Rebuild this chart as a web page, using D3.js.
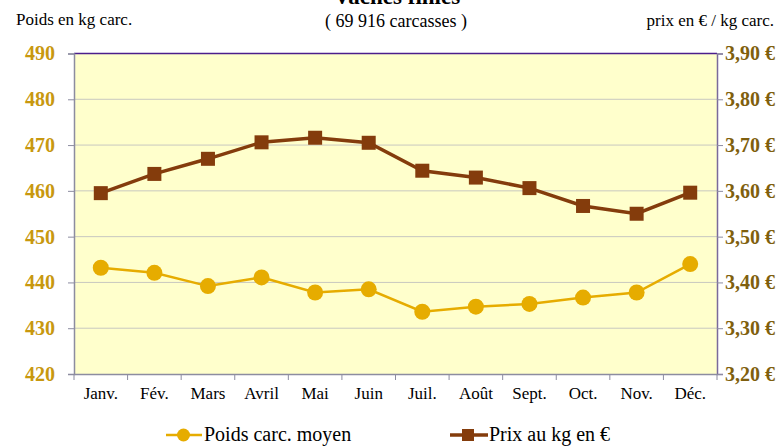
<!DOCTYPE html>
<html>
<head>
<meta charset="utf-8">
<script src="https://cdn.jsdelivr.net/npm/d3@7"></script>
<style>
  body { margin: 0; background: #fff; }
  svg text { font-family: "Liberation Serif", "Times New Roman", Times, serif; }
</style>
</head>
<body>
<svg id="chart" width="778" height="446"></svg>
<script>
const months = ["Janv.", "Fév.", "Mars", "Avril", "Mai", "Juin", "Juil.", "Août", "Sept.", "Oct.", "Nov.", "Déc."];
const poids = [443.2, 442.1, 439.2, 441.1, 437.8, 438.5, 433.6, 434.7, 435.3, 436.7, 437.8, 444.0];
const prix = [3.595, 3.637, 3.670, 3.706, 3.716, 3.705, 3.644, 3.629, 3.606, 3.567, 3.550, 3.596];
const leftTicks = [420, 430, 440, 450, 460, 470, 480, 490];
const rightTicks = [3.2, 3.3, 3.4, 3.5, 3.6, 3.7, 3.8, 3.9];

const serif = "'Liberation Serif', 'Times New Roman', Times, serif";
const svg = d3.select("#chart");
const plotL = 74, plotR = 717, plotT = 53.5, plotB = 374;

const x = d3.scaleBand().domain(months).range([plotL, plotR]);
const yL = d3.scaleLinear().domain([420, 490]).range([plotB, plotT]);
const yR = d3.scaleLinear().domain([3.2, 3.9]).range([plotB, plotT]);

// titles
svg.append("text").attr("x", 397).attr("y", 4).attr("text-anchor", "middle")
  .style("font-family", serif).attr("font-size", 23).attr("font-weight", "bold").text("Vaches finies");
svg.append("text").attr("x", 396).attr("y", 26.5).attr("text-anchor", "middle")
  .style("font-family", serif).attr("font-size", 18).text("( 69 916 carcasses )");
svg.append("text").attr("x", 16).attr("y", 24.5).style("font-family", serif).attr("font-size", 17).text("Poids en kg carc.");
svg.append("text").attr("x", 774).attr("y", 26).attr("text-anchor", "end")
  .style("font-family", serif).attr("font-size", 17).text("prix en € / kg carc.");

// plot background
svg.append("rect").attr("x", plotL).attr("y", plotT).attr("width", plotR - plotL)
  .attr("height", plotB - plotT).attr("fill", "#FFFFCC");

// gridlines
svg.append("g").selectAll("line").data(leftTicks.slice(1, -1)).join("line")
  .attr("x1", plotL).attr("x2", plotR)
  .attr("y1", d => yL(d)).attr("y2", d => yL(d))
  .attr("stroke", "#C8C8C0").attr("stroke-width", 1);

// frame top
svg.append("line").attr("x1", plotL).attr("x2", plotR).attr("y1", plotT).attr("y2", plotT)
  .attr("stroke", "#4B1E8C").attr("stroke-width", 1.5);

// left axis
const gL = svg.append("g").attr("transform", `translate(${plotL},0)`)
  .call(d3.axisLeft(yL).tickValues(leftTicks).tickSize(6).tickPadding(13).tickFormat(d3.format("d")));
gL.attr("font-family", null);
gL.select(".domain").attr("stroke", "#8C8CA0").attr("stroke-width", 1.5);
gL.selectAll(".tick line").attr("stroke", "#8C8CA0");
gL.selectAll(".tick text").style("font-family", serif).attr("font-size", 20)
  .attr("font-weight", "bold").attr("fill", "#C8980F");

// right axis
const gR = svg.append("g").attr("transform", `translate(${plotR},0)`)
  .call(d3.axisRight(yR).tickValues(rightTicks).tickSize(6).tickPadding(2)
    .tickFormat(d => d3.format(".2f")(d).replace(".", ",") + " €"));
gR.attr("font-family", null);
gR.select(".domain").attr("stroke", "#7A6A9A").attr("stroke-width", 1.5);
gR.selectAll(".tick line").attr("stroke", "#8C8CA0");
gR.selectAll(".tick text").style("font-family", serif).attr("font-size", 20)
  .attr("font-weight", "bold").attr("fill", "#7F5F0E");

// bottom axis
const gB = svg.append("g").attr("transform", `translate(0,${plotB})`)
  .call(d3.axisBottom(x).tickSize(0).tickPadding(13));
gB.attr("font-family", null);
gB.select(".domain").attr("stroke", "#8C8CA0").attr("stroke-width", 1.5);
gB.selectAll(".tick text").style("font-family", serif).attr("font-size", 17).attr("fill", "#000");
svg.append("g").selectAll("line").data(months.concat(["end"])).join("line")
  .attr("x1", (d, i) => plotL + i * x.step()).attr("x2", (d, i) => plotL + i * x.step())
  .attr("y1", plotB).attr("y2", plotB + 6)
  .attr("stroke", "#8C8CA0");

const cx = d => x(d) + x.bandwidth() / 2;

// poids line
svg.append("path").datum(poids)
  .attr("d", d3.line().x((d, i) => cx(months[i])).y(d => yL(d)))
  .attr("fill", "none").attr("stroke", "#E6AC00").attr("stroke-width", 2.5);
svg.append("g").selectAll("circle").data(poids).join("circle")
  .attr("cx", (d, i) => cx(months[i])).attr("cy", d => yL(d)).attr("r", 8)
  .attr("fill", "#E6AC00");

// prix line
svg.append("path").datum(prix)
  .attr("d", d3.line().x((d, i) => cx(months[i])).y(d => yR(d)))
  .attr("fill", "none").attr("stroke", "#843C0C").attr("stroke-width", 3.5);
svg.append("g").selectAll("rect").data(prix).join("rect")
  .attr("x", (d, i) => cx(months[i]) - 7).attr("y", d => yR(d) - 7)
  .attr("width", 14).attr("height", 14).attr("fill", "#843C0C");

// legend
const lg = svg.append("g");
lg.append("line").attr("x1", 166).attr("x2", 202).attr("y1", 435).attr("y2", 435)
  .attr("stroke", "#E6AC00").attr("stroke-width", 2.5);
lg.append("circle").attr("cx", 183.5).attr("cy", 435).attr("r", 6.5).attr("fill", "#E6AC00");
lg.append("text").attr("x", 204).attr("y", 441).style("font-family", serif).attr("font-size", 20).text("Poids carc. moyen");
lg.append("line").attr("x1", 450).attr("x2", 488).attr("y1", 435).attr("y2", 435)
  .attr("stroke", "#843C0C").attr("stroke-width", 3.5);
lg.append("rect").attr("x", 462).attr("y", 429).attr("width", 12).attr("height", 12).attr("fill", "#843C0C");
lg.append("text").attr("x", 489).attr("y", 441).style("font-family", serif).attr("font-size", 20).text("Prix au kg en €");
</script>
</body>
</html>
